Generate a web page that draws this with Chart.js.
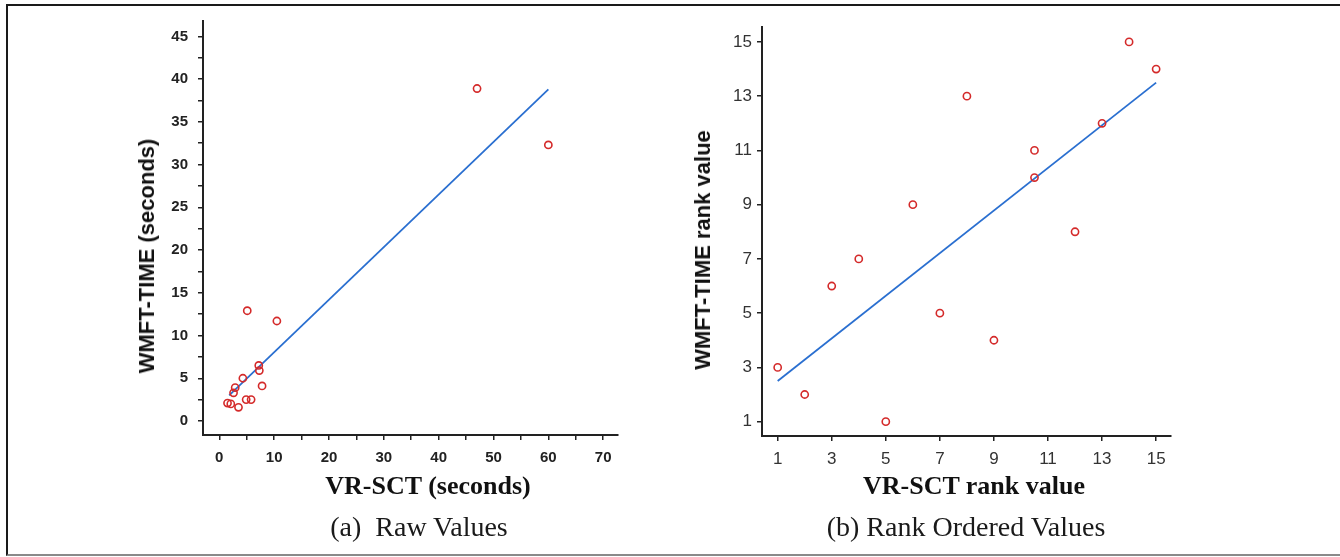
<!DOCTYPE html>
<html>
<head>
<meta charset="utf-8">
<script src="https://cdn.jsdelivr.net/npm/chart.js@4.4.1/dist/chart.umd.min.js"></script>
<style>
  html, body { margin: 0; padding: 0; background: #fff; }
  #wrap { position: relative; width: 1340px; height: 557px; overflow: hidden; background: #fff; }
  #frame { position: absolute; left: 6px; top: 4px; width: 1340px; height: 548px;
           border-top: 2px solid #1a1a1a; border-left: 2px solid #1a1a1a; border-bottom: 2px solid #8a8a8a; }
  canvas { position: absolute; top: 0; }
  #cLeft { left: 0; }
  #cRight { left: 670px; }
  .t { position: absolute; white-space: pre; transform: translate(-50%, -50%); color: #111; line-height: 1; }
  .ytitle { font-family: "Liberation Sans", Arial, sans-serif; font-weight: bold; font-size: 22px;
            transform: translate(-50%, -50%) rotate(-90deg); }
  .xtitle { font-family: "Liberation Serif", "Times New Roman", serif; font-weight: bold; font-size: 26px; }
  .cap { font-family: "Liberation Serif", "Times New Roman", serif; font-size: 28px; color: #1a1a1a; }
</style>
</head>
<body>
<div id="wrap">
  <div id="frame"></div>
  <canvas id="cLeft" width="670" height="557"></canvas>
  <canvas id="cRight" width="670" height="557"></canvas>
  <div class="t ytitle" id="ytL" style="left:147px; top:256px;"></div>
  <div class="t ytitle" id="ytR" style="left:703px; top:250px;"></div>
  <div class="t xtitle" id="xtL" style="left:428px; top:486px;"></div>
  <div class="t xtitle" id="xtR" style="left:974px; top:486px;"></div>
  <div class="t cap" id="capL" style="left:419px; top:527px;"></div>
  <div class="t cap" id="capR" style="left:966px; top:527px;"></div>
</div>
<script>
// ---------- Data: (a) Raw values ----------
const rawVRSCT = [47.0, 60.0, 5.1, 10.5, 7.2, 7.3, 4.3, 7.8, 2.9, 2.6, 4.9, 5.8, 1.5, 2.1, 3.5];
const rawWMFT  = [38.9, 32.3, 12.9, 11.7, 6.5, 5.9, 5.0, 4.1, 3.9, 3.3, 2.5, 2.5, 2.1, 2.0, 1.6];
const rawFitX  = [1.8, 60.0];
const rawFitY  = [3.0, 38.8];

// ---------- Data: (b) Rank ordered values ----------
const rankVRSCT = [1, 2, 3, 4, 5, 6, 7, 8, 9, 10.5, 10.5, 12, 13, 14, 15];
const rankWMFT  = [3, 2, 6, 7, 1, 9, 5, 13, 4, 11, 10, 8, 12, 15, 14];
const rankFitX  = [1, 15];
const rankFitY  = [2.5, 13.5];

// ---------- Ticks ----------
const rawXTicks   = [0, 5, 10, 15, 20, 25, 30, 35, 40, 45, 50, 55, 60, 65, 70];
const rawXLabels  = [0, 10, 20, 30, 40, 50, 60, 70];
const rawYTicks   = [0, 2.5, 5, 7.5, 10, 12.5, 15, 17.5, 20, 22.5, 25, 27.5, 30, 32.5, 35, 37.5, 40, 42.5, 45];
const rawYLabels  = [0, 5, 10, 15, 20, 25, 30, 35, 40, 45];
const rankXTicks  = [1, 3, 5, 7, 9, 11, 13, 15];
const rankYTicks  = [1, 3, 5, 7, 9, 11, 13, 15];

// ---------- Text ----------
const rawYTitle  = "WMFT-TIME (seconds)";
const rawXTitle  = "VR-SCT (seconds)";
const rawCaption = "(a)  Raw Values";
const rankYTitle = "WMFT-TIME rank value";
const rankXTitle = "VR-SCT rank value";
const rankCaption = "(b) Rank Ordered Values";

document.getElementById('ytL').textContent = rawYTitle;
document.getElementById('xtL').textContent = rawXTitle;
document.getElementById('capL').textContent = rawCaption;
document.getElementById('ytR').textContent = rankYTitle;
document.getElementById('xtR').textContent = rankXTitle;
document.getElementById('capR').textContent = rankCaption;

const RED = '#d42a2a';
const BLUE = '#2a6fd0';
const AXIS = '#222';

function pts(xs, ys) { return xs.map((x, i) => ({ x: x, y: ys[i] })); }

function makeAxis(opts) {
  return {
    type: 'linear',
    min: opts.min, max: opts.max,
    afterBuildTicks: (s) => { s.ticks = opts.ticks.map(v => ({ value: v })); },
    afterFit: (s) => { if (opts.width !== undefined) s.width = opts.width; if (opts.height !== undefined) s.height = opts.height; },
    border: { display: true, color: AXIS, width: 2 },
    grid: { display: true, drawOnChartArea: false, drawTicks: true, tickLength: 5, color: AXIS, lineWidth: 1.5 },
    ticks: {
      autoSkip: false, maxRotation: 0, minRotation: 0,
      padding: opts.padding,
      color: opts.color,
      font: opts.font,
      callback: (v) => (opts.labels.some(l => Math.abs(l - v) < 1e-9) ? String(v) : '')
    }
  };
}

function makeChart(id, scatterXs, scatterYs, fitXs, fitYs, xAxis, yAxis, padding) {
  return new Chart(document.getElementById(id), {
    type: 'scatter',
    data: {
      datasets: [
        { type: 'scatter', data: pts(scatterXs, scatterYs), pointStyle: 'circle',
          pointRadius: 3.6, pointBorderWidth: 1.6, borderColor: RED, backgroundColor: 'rgba(0,0,0,0)', order: 1 },
        { type: 'line', data: pts(fitXs, fitYs), showLine: true, borderColor: BLUE, borderWidth: 1.8,
          pointRadius: 0, fill: false, order: 2 }
      ]
    },
    options: {
      responsive: false, animation: false, devicePixelRatio: 1,
      layout: { padding: padding },
      plugins: { legend: { display: false }, tooltip: { enabled: false }, title: { display: false } },
      scales: { x: xAxis, y: yAxis }
    }
  });
}

// Left chart: chart area x 203..618, y 21..435
makeChart('cLeft', rawVRSCT, rawWMFT, rawFitX, rawFitY,
  makeAxis({ min: -2.97, max: 72.7, ticks: rawXTicks, labels: rawXLabels, height: 40, padding: 9,
             color: '#222', font: { family: 'Liberation Sans, Arial, sans-serif', size: 15, weight: 'bold' } }),
  makeAxis({ min: -1.64, max: 46.8, ticks: rawYTicks, labels: rawYLabels, width: 203, padding: 10,
             color: '#222', font: { family: 'Liberation Sans, Arial, sans-serif', size: 15, weight: 'bold' } }),
  { left: 0, top: 21, right: 52, bottom: 82 });

// Right chart: chart area x 762..1171 (92..501 in canvas), y 27..436
makeChart('cRight', rankVRSCT, rankWMFT, rankFitX, rankFitY,
  makeAxis({ min: 0.42, max: 15.55, ticks: rankXTicks, labels: rankXTicks, height: 40, padding: 8,
             color: '#333', font: { family: 'Liberation Sans, Arial, sans-serif', size: 17 } }),
  makeAxis({ min: 0.47, max: 15.55, ticks: rankYTicks, labels: rankYTicks, width: 92, padding: 5,
             color: '#333', font: { family: 'Liberation Sans, Arial, sans-serif', size: 17 } }),
  { left: 0, top: 27, right: 169, bottom: 81 });
</script>
</body>
</html>
